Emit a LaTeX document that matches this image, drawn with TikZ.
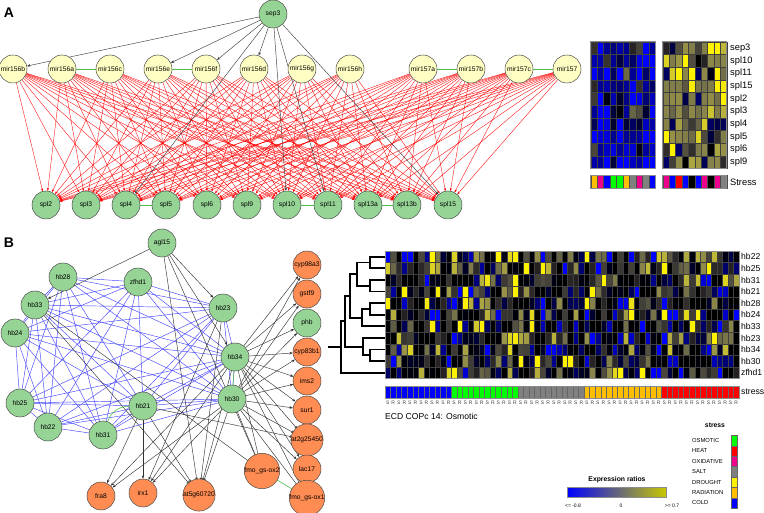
\documentclass[tikz,border=0pt]{standalone}
\usepackage{fontspec}
\setmainfont{Liberation Sans}
\usetikzlibrary{arrows.meta}
\definecolor{ngreen}{RGB}{150,212,150}
\definecolor{nyellow}{RGB}{255,255,196}
\definecolor{norange}{RGB}{255,140,82}
\definecolor{sorange}{RGB}{255,190,0}
\definecolor{bedge}{RGB}{70,70,255}
\definecolor{gedge}{RGB}{80,190,80}
% #1 x, #2 y, #3 w, #4 h, #5 bias, #6 scale, #7 exponent shaping
\newcommand\hmcell[7]{%
  \pgfmathsetmacro\hmr{rand}%
  \pgfmathsetmacro\hmv{max(-1,min(1,#5+#6*\hmr*abs(\hmr)^(#7)))}%
  \pgfmathtruncatemacro\hmp{abs(\hmv)*100}%
  \ifdim\hmv pt<0pt\def\hmc{blue}\else\def\hmc{yellow}\fi
  \filldraw[fill=\hmc!\hmp!black,draw=black!75,line width=0.3pt] (#1,#2) rectangle ++(#3,#4);%
}
\begin{document}
\begin{tikzpicture}[x=1pt,y=-1pt,
  nd/.style={circle,draw=black!70,line width=0.5pt,minimum size=28pt,inner sep=0pt,font=\fontsize{6.7}{7}\selectfont},
  gnd/.style={nd,fill=ngreen},
  ynd/.style={nd,fill=nyellow},
  ond/.style={nd,fill=norange},
  ghost/.style={circle,minimum size=28pt,inner sep=0pt},
  redge/.style={red,line width=0.35pt,-{Stealth[length=3pt,width=2.2pt]}},
  kedge/.style={black!75,line width=0.45pt,-{Stealth[length=3.5pt,width=2.6pt]}},
  bkarrow/.style={black!80,line width=0.45pt,-{Stealth[length=3.5pt,width=2.6pt]}},
  bluee/.style={bedge,line width=0.45pt},
  greene/.style={gedge,line width=0.6pt},
  rowlab/.style={anchor=west,inner sep=0pt,font=\fontsize{9.3}{10}\selectfont},
  rowlabb/.style={anchor=west,inner sep=0pt,font=\fontsize{8.6}{9}\selectfont},
  srlab/.style={inner sep=0pt,font=\fontsize{5}{5}\selectfont,text=black!75},
  leglab/.style={anchor=west,inner sep=0pt,font=\fontsize{5.8}{6}\selectfont},
  dendro/.style={line width=1.8pt,black},
  panel/.style={font=\fontsize{14}{16}\selectfont\bfseries}
]
\useasboundingbox (0,0) rectangle (764,513);
\fill[white] (0,0) rectangle (764,513);
\pgfmathsetseed{4711}

% ---------------- Panel A ----------------
\node[panel] (labA) at (9,13) {A};
\node[ghost] (sep3) at (273,14) {};
\foreach \n/\x in {mir156b/13,mir156a/62,mir156c/110,mir156e/158,mir156f/206,mir156d/254,mir156g/302,mir156h/350,mir157a/423,mir157b/471,mir157c/519,mir157/567}
  {\node[ghost] (\n) at (\x,69) {};}
\foreach \n/\x in {spl2/46,spl3/86,spl4/126,spl5/166,spl6/207,spl9/247,spl10/287,spl11/328,spl13a/368,spl13b/407,spl15/448}
  {\node[ghost] (\n) at (\x,205) {};}

\foreach \m in {mir156b,mir156a,mir156c,mir156e,mir156f,mir156d,mir156g,mir156h,mir157a,mir157b,mir157c,mir157}
  {\foreach \s in {spl2,spl3,spl4,spl5,spl6,spl9,spl10,spl11,spl13a,spl13b,spl15}
    {\draw[redge] (\m) -- (\s);}}
\foreach \t in {mir156b,mir156e,mir156f,mir156d,spl4,spl10,spl11,spl15}
  {\draw[kedge] (sep3) -- (\t);}
\foreach \a/\b in {mir156a/mir156c,mir156e/mir156f,mir157a/mir157b,mir157c/mir157,spl4/spl5,spl10/spl11,spl13a/spl13b}
  {\draw[greene] (\a) -- (\b);}

\node[gnd] (sep3v) at (sep3) {sep3};
\foreach \n in {mir156b,mir156a,mir156c,mir156e,mir156f,mir156d,mir156g,mir156h,mir157a,mir157b,mir157c,mir157}
  {\node[ynd] (\n v) at (\n) {\n};}
\foreach \n in {spl2,spl3,spl4,spl5,spl6,spl9,spl10,spl11,spl13a,spl13b,spl15}
  {\node[gnd] (\n v) at (\n) {\n};}

% heatmap A
\foreach \r in {0,...,9}
  {\foreach \c in {0,...,9}
    {\hmcell{590.7+\c*6.47}{41.7+\r*12.67}{6.47}{12.67}{-0.6}{1.0}{1}}}
\foreach \r in {0,...,9}
  {\foreach \c in {0,...,9}
    {\hmcell{662.7+\c*6.4}{41.7+\r*12.67}{6.4}{12.67}{0.45}{0.9}{1}}}
\draw[black!45,line width=0.7pt] (590.7,41.7) rectangle (655.4,168.4);
\draw[black!45,line width=0.7pt] (662.7,41.7) rectangle (726.7,168.4);
\foreach \n [count=\i from 0] in {sep3,spl10,spl11,spl15,spl2,spl3,spl4,spl5,spl6,spl9}
  {\node[rowlab] (ha\i) at (730,{48+\i*12.67}) {\n};}
\foreach \col [count=\i from 0] in {sorange,magenta,blue,green,green,sorange,gray,magenta,gray,blue}
  {\filldraw[fill=\col,draw=black!70,line width=0.3pt] ({590.7+\i*6.47},175) rectangle ++(6.47,13);}
\foreach \col [count=\i from 0] in {magenta,blue,red,blue,black,blue,magenta,black,magenta,gray}
  {\filldraw[fill=\col,draw=black!70,line width=0.3pt] ({662.7+\i*6.4},175) rectangle ++(6.4,13);}
\draw[black!45,line width=0.7pt] (590.7,175) rectangle (655.4,188);
\draw[black!45,line width=0.7pt] (662.7,175) rectangle (726.7,188);
\node[rowlab] (stressA) at (730,182) {Stress};

% ---------------- Panel B ----------------
\node[panel] (labB) at (9,243) {B};
\foreach \n/\x/\y in {agl15/162/243,hb28/63/277,zfhd1/138/282,hb33/35/305,hb23/223/308,hb24/15/333,hb34/235/357,hb25/20/403,hb22/48/427,hb31/103/435,hb21/143/406,hb30/232/399,cyp98a3/307/265,gstf9/307/294,phb/307/323,cyp83b1/307/352,ims2/307/381,sur1/307/410,at2g/307/440,lac17/307/469,fmo1/307/498,fmo2/262/471,fra8/101/496,irx1/143/493,at5g/199/495}
  {\node[ghost] (\n) at (\x,\y) {};}

\foreach \a [count=\i] in {hb28,zfhd1,hb33,hb23,hb24,hb34,hb25,hb22,hb31,hb21,hb30}
  {\foreach \b [count=\j] in {hb28,zfhd1,hb33,hb23,hb24,hb34,hb25,hb22,hb31,hb21,hb30}
    {\ifnum\j>\i \draw[bluee] (\a) -- (\b);\fi}}
\foreach \s in {hb34,hb30}
  {\foreach \t in {cyp98a3,gstf9,phb,cyp83b1,ims2,sur1,at2g,lac17,fmo1,fmo2,at5g,irx1,fra8}
    {\draw[bkarrow] (\s) -- (\t);}}
\foreach \s/\t in {agl15/hb33,agl15/hb23,agl15/hb34,agl15/at5g,agl15/fmo2,hb21/fra8,hb21/irx1,hb21/at5g,hb33/fmo2,hb33/at5g,hb23/irx1,hb23/at5g,hb21/at2g}
  {\draw[bkarrow] (\s) -- (\t);}
\draw[greene] (hb34) -- (hb30);
\draw[greene] (hb31) to[bend left=35] (hb21);
\draw[greene] (fmo2) -- (fmo1);

\foreach \n in {agl15,hb28,zfhd1,hb33,hb23,hb24,hb34,hb25,hb22,hb31,hb21,hb30,phb}
  {\node[gnd] (\n v) at (\n) {\n};}
\foreach \n/\t in {cyp98a3/cyp98a3,gstf9/gstf9,cyp83b1/cyp83b1,ims2/ims2,sur1/sur1,at2g/at2g25450,lac17/lac17,fmo1/fmo\_gs-ox1,fmo2/fmo\_gs-ox2,fra8/fra8,irx1/irx1,at5g/at5g60720}
  {\node[ond] (\n v) at (\n) {\t};}

% heatmap B
\foreach \r in {0,...,10}
  {\foreach \c in {0,...,63}
    {\hmcell{385+\c*5.53}{251+\r*11.6}{5.53}{11.6}{0.0}{1.35}{2}}}
\draw[black!45,line width=0.7pt] (385,251) rectangle (739,378.6);
\foreach \n [count=\i from 0] in {hb22,hb25,hb31,hb21,hb28,hb24,hb33,hb23,hb34,hb30,zfhd1}
  {\node[rowlabb] (hbl\i) at (741,{256.8+\i*11.6}) {\n};}

% dendrogram
\draw[dendro] (385,256.8) -| (370,268.4) -- (385,268.4);
\draw[dendro] (385,280) -| (370,291.6) -- (385,291.6);
\draw[dendro] (370,262.6) -| (357,285.8) -- (370,285.8);
\draw[dendro] (385,303.2) -| (370,314.8) -- (385,314.8);
\draw[dendro] (370,309) -| (362,326.4) -- (385,326.4);
\draw[dendro] (357,274.2) -| (350,317.7) -- (362,317.7);
\draw[dendro] (385,349.6) -| (370,361.2) -- (385,361.2);
\draw[dendro] (385,338) -| (363,355.4) -- (370,355.4);
\draw[dendro] (350,296) -| (345,346.7) -- (363,346.7);
\draw[dendro] (345,321.4) -| (341,372.8) -- (385,372.8);
\draw[dendro] (328,347.1) -- (341,347.1);

% stress bar B
\foreach \c in {0,...,63}{
  \ifnum\c<12 \def\sc{blue}\else\ifnum\c<24 \def\sc{green}\else\ifnum\c<36 \def\sc{gray}\else\ifnum\c<50 \def\sc{sorange}\else\def\sc{red}\fi\fi\fi\fi
  \filldraw[fill=\sc,draw=black!60,line width=0.3pt] ({385+\c*5.53},386) rectangle ++(5.53,12);
}
\draw[black!45,line width=0.7pt] (385,386) rectangle (739,398);
\node[rowlabb] (stressB) at (741,392) {stress};
\foreach \c in {0,2,...,62}{
  \node[srlab] (s\c) at ({385+(\c+0.5)*5.53},402.5) {S};
  \node[srlab] (r\c) at ({385+(\c+1.5)*5.53},402.5) {R};
}
\node[anchor=west,inner sep=0pt,font=\fontsize{8.6}{9}\selectfont] (ecd) at (385,416) {ECD COPc 14: Osmotic};

% legends
\node[inner sep=0pt,font=\fontsize{6.8}{7}\selectfont\bfseries] (stl) at (715,425) {stress};
\foreach \n/\col [count=\i from 0] in {OSMOTIC/green,HEAT/red,OXIDATIVE/magenta,SALT/gray,DROUGHT/yellow,RADIATION/sorange,COLD/blue}{
  \node[leglab] (lg\i) at (692,{440.5+\i*10.4}) {\n};
  \filldraw[fill=\col,draw=black!60,line width=0.3pt] (731,{435.3+\i*10.4}) rectangle ++(6,10.4);
}
\node[inner sep=0pt,font=\fontsize{6.8}{7}\selectfont\bfseries] (exl) at (617,480) {Expression ratios};
\shade[left color=blue,middle color=black,right color=yellow!78!black] (567,487) rectangle (666,497);
\draw[black!45,line width=0.6pt] (567,487) rectangle (666,497);
\node[inner sep=0pt,font=\fontsize{5}{6}\selectfont] (e1) at (573,505.5) {<= -0.8};
\node[inner sep=0pt,font=\fontsize{5}{6}\selectfont] (e2) at (621,505.5) {0};
\node[inner sep=0pt,font=\fontsize{5}{6}\selectfont] (e3) at (672,505.5) {>= 0.7};
\end{tikzpicture}
\end{document}
